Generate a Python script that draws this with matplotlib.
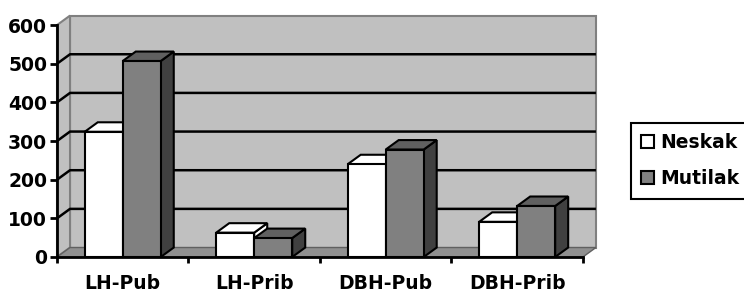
import matplotlib
matplotlib.use('Agg')
import matplotlib.pyplot as plt
from matplotlib.patches import Polygon, Patch

plt.rcParams['font.family'] = ['DejaVu Sans']
plt.rcParams['font.weight'] = 'bold'

# Datuak
kategoriak = ['LH-Pub', 'LH-Prib', 'DBH-Pub', 'DBH-Prib']
neskak = [324, 63, 240, 91]
mutilak = [507, 49, 278, 132]
serieak = ['Neskak', 'Mutilak']
y_ticks = [0, 100, 200, 300, 400, 500, 600]

# 3D itxura
DX, DY = 0.099, 24.5
BW = 0.289
WALL = '#c0c0c0'
EDGE_GRAY = '#808080'
colors = {
    'Neskak': ('white', 'white', 'white'),
    'Mutilak': ('#808080', '#606060', '#404040'),
}
FS = 13.5

fig = plt.figure(figsize=(7.44, 2.93), dpi=100)
ax = fig.add_axes([57 / 744, 36 / 293, 543 / 744, 247 / 293])
ax.set_xlim(0, 4.13)
ax.set_ylim(0, 639)
ax.patch.set_visible(False)

n = len(kategoriak)
ymax = y_ticks[-1]

# atzeko horma, alboko horma, zorua
ax.add_patch(Polygon([(DX, DY), (n + DX, DY), (n + DX, ymax + DY), (DX, ymax + DY)],
                     closed=True, facecolor=WALL, edgecolor=EDGE_GRAY, lw=1.5, zorder=1, clip_on=False))
ax.add_patch(Polygon([(0, 0), (DX, DY), (DX, ymax + DY), (0, ymax)],
                     closed=True, facecolor=WALL, edgecolor=EDGE_GRAY, lw=1.5, zorder=1, clip_on=False))
ax.add_patch(Polygon([(0, 0), (n, 0), (n + DX, DY), (DX, DY)],
                     closed=True, facecolor='#909090', edgecolor='#606060', lw=1.0, zorder=1.5, clip_on=False))

# sareta lerroak
for v in y_ticks[1:-1]:
    ax.plot([0, DX, n + DX], [v, v + DY, v + DY], color='black', lw=1.8, zorder=2,
            solid_capstyle='butt')


def bar3d(x0, h, face, top, side):
    front = Polygon([(x0, 0), (x0 + BW, 0), (x0 + BW, h), (x0, h)], closed=True,
                    facecolor=face, edgecolor='black', lw=1.5, zorder=3)
    topf = Polygon([(x0, h), (x0 + BW, h), (x0 + BW + DX, h + DY), (x0 + DX, h + DY)], closed=True,
                   facecolor=top, edgecolor='black', lw=1.5, zorder=3)
    sidef = Polygon([(x0 + BW, 0), (x0 + BW + DX, DY), (x0 + BW + DX, h + DY), (x0 + BW, h)], closed=True,
                    facecolor=side, edgecolor='black', lw=1.5, zorder=3)
    for p in (sidef, topf, front):
        ax.add_patch(p)


for i in range(n):
    c = i + 0.5
    bar3d(c - BW, neskak[i], *colors['Neskak'])
    bar3d(c, mutilak[i], *colors['Mutilak'])

# ardatzak
for s in ['top', 'right']:
    ax.spines[s].set_visible(False)
ax.spines['left'].set_bounds(0, ymax)
ax.spines['bottom'].set_bounds(0, n)
for s in ['left', 'bottom']:
    ax.spines[s].set_linewidth(2.0)
    ax.spines[s].set_zorder(4)

ax.set_yticks(y_ticks)
ax.set_yticklabels([str(v) for v in y_ticks], fontsize=FS, fontweight='bold')
ax.tick_params(axis='y', length=5, width=2.0, pad=2)

ax.set_xticks(range(n + 1))
ax.set_xticklabels([''] * (n + 1))
ax.set_xticks([i + 0.5 for i in range(n)], minor=True)
ax.set_xticklabels(kategoriak, minor=True, fontsize=FS, fontweight='bold')
ax.tick_params(axis='x', which='major', length=4, width=2.0)
ax.tick_params(axis='x', which='minor', length=0, pad=12.5)

handles = [Patch(facecolor=colors[s][0], edgecolor='black', lw=1.5) for s in serieak]
leg = fig.legend(handles, serieak, loc='upper left', bbox_to_anchor=(631 / 744, 1 - 123 / 293),
                 borderaxespad=0, fancybox=False, framealpha=1, edgecolor='black',
                 prop={'size': FS, 'weight': 'bold'}, handlelength=0.7, handleheight=0.7,
                 handletextpad=0.3, labelspacing=0.9, borderpad=0.55)
leg.get_frame().set_linewidth(1.5)

fig.savefig('out.png', dpi=100)
